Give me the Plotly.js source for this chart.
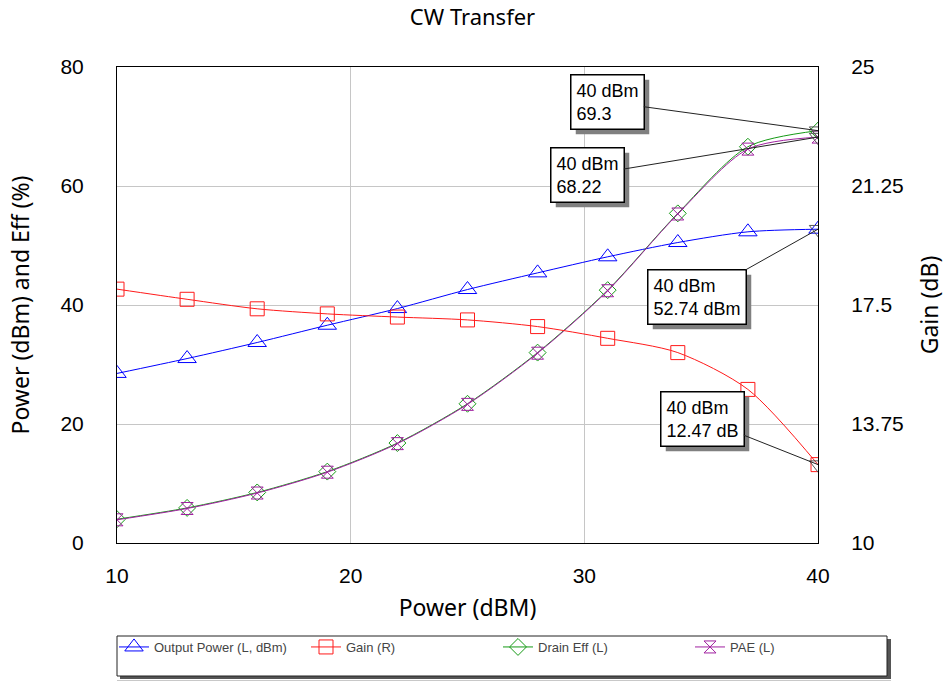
<!DOCTYPE html>
<html>
<head>
<meta charset="utf-8">
<script src="https://cdn.plot.ly/plotly-3.0.1.min.js"></script>
<style>html,body{margin:0;padding:0;background:#fff;}#chart{width:945px;height:681px;}</style>
</head>
<body>
<div id="chart"></div>
<script>
// ---- data ----
const inputPower = [10, 13, 16, 19, 22, 25, 28, 31, 34, 37, 40];
const outputPower = [28.5, 31.0, 33.7, 36.6, 39.4, 42.6, 45.4, 48.1, 50.5, 52.3, 52.74];
const gainDb = [18.0, 17.68, 17.38, 17.22, 17.12, 17.03, 16.82, 16.45, 16.0, 14.84, 12.47];
const drainEff = [4.0, 5.9, 8.5, 12.0, 16.8, 23.4, 32.0, 42.5, 55.4, 66.6, 69.3];
const pae = [3.9, 5.8, 8.4, 11.9, 16.7, 23.3, 31.9, 42.4, 55.3, 66.2, 68.22];
const seriesNames = ['Output Power (L, dBm)', 'Gain (R)', 'Drain Eff (L)', 'PAE (L)'];
const leftTicks = [0, 20, 40, 60, 80];
const rightTicks = [10, 13.75, 17.5, 21.25, 25];
const xTicks = [10, 20, 30, 40];
const markerX = 40;
const markerLeft = [69.3, 68.22, 52.74];
const markerRight = [12.47];

const lastIdx = inputPower.length - 1;

function line(name, y, color, symbol, size, yaxis) {
  return {
    x: inputPower, y: y, name: name, type: 'scatter', mode: 'lines+markers',
    yaxis: yaxis,
    line: {color: color, width: 1, shape: 'spline', smoothing: 0.8},
    marker: {symbol: symbol, size: size, color: color, line: {color: color, width: 1}}
  };
}

const traces = [
  line(seriesNames[0], outputPower, '#0000ff', 'triangle-up-open', 16, 'y'),
  line(seriesNames[1], gainDb, '#ff1a1a', 'square-open', 14, 'y2'),
  line(seriesNames[2], drainEff, '#159a15', 'diamond-open', 13, 'y'),
  line(seriesNames[3], pae, '#a020a0', 'hourglass-open', 12, 'y'),
  {x: markerLeft.map(() => markerX), y: markerLeft, type: 'scatter', mode: 'markers', showlegend: false, yaxis: 'y',
   marker: {symbol: 'triangle-down-open', size: 15, color: '#555', line: {color: '#555', width: 1}}},
  {x: markerRight.map(() => markerX), y: markerRight, type: 'scatter', mode: 'markers', showlegend: false, yaxis: 'y2',
   marker: {symbol: 'triangle-down-open', size: 15, color: '#555', line: {color: '#555', width: 1}}}
];

const notes = [
  {y: drainEff[lastIdx], yref: 'y', text: '40 dBm<br>69.3', ax: -211, ay: -29},
  {y: pae[lastIdx], yref: 'y', text: '40 dBm<br>68.22', ax: -231, ay: 38},
  {y: outputPower[lastIdx], yref: 'y', text: '40 dBm<br>52.74 dBm', ax: -121, ay: 68},
  {y: gainDb[lastIdx], yref: 'y2', text: '40 dBm<br>12.47 dB', ax: -116, ay: -46}
];
const noteFont = 'Liberation Sans, Arial';
const annotations = notes.map(n => ({
  x: inputPower[lastIdx], xref: 'x', y: n.y, yref: n.yref, text: n.text,
  showarrow: true, arrowhead: 0, arrowwidth: 1, arrowcolor: '#222', ax: n.ax, ay: n.ay, align: 'left',
  font: {family: noteFont, size: 18, color: '#000'},
  bgcolor: '#ffffff', bordercolor: '#000', borderwidth: 1.5, borderpad: 5
}));

const L = 117, R = 818, T = 67, B = 543;
const pw = R - L, ph = B - T;
const px = v => (v - L) / pw;
const py = v => (B - v) / ph;

const shapes = [
  {type: 'rect', xref: 'paper', yref: 'paper', x0: px(120), x1: px(891), y0: py(679), y1: py(639),
   fillcolor: '#555', line: {width: 0}, layer: 'above'},
  {type: 'rect', xref: 'paper', yref: 'paper', x0: px(117), x1: px(887), y0: py(676), y1: py(636),
   fillcolor: '#fff', line: {width: 1, color: '#222'}, layer: 'above'},
  {type: 'line', xref: 'paper', yref: 'paper', x0: px(117), x1: px(891), y0: py(680.5), y1: py(680.5),
   line: {width: 1, color: '#c8c8c8'}, layer: 'above'}
];

const layout = {
  width: 945, height: 681,
  margin: {l: L, r: 945 - R, t: T, b: 681 - B, autoexpand: false},
  paper_bgcolor: '#fff', plot_bgcolor: '#fff',
  title: {text: 'CW Transfer', x: 0.5, xref: 'container', y: 1 - 17 / 681, yref: 'container', yanchor: 'middle',
    font: {family: 'Noto Sans', size: 22, color: '#000'}},
  xaxis: {range: [10, 40], tickvals: xTicks, ticktext: xTicks.map(String), showgrid: true, gridcolor: '#c6c6c6',
    zeroline: false, showline: true, mirror: true, linecolor: '#000', linewidth: 1,
    ticks: '', ticklabelstandoff: 14,
    tickfont: {family: 'Liberation Sans, Arial', size: 21, color: '#000'},
    title: {text: 'Power (dBM)', font: {family: 'Noto Sans', size: 23, color: '#000'}, standoff: 13}},
  yaxis: {range: [0, 80], tickvals: leftTicks, ticktext: leftTicks.map(String), showgrid: true, gridcolor: '#c6c6c6',
    zeroline: false, showline: true, mirror: true, linecolor: '#000', linewidth: 1,
    ticks: '', ticklabelstandoff: 28,
    tickfont: {family: 'Liberation Sans, Arial', size: 21, color: '#000'},
    title: {text: 'Power (dBm) and Eff (%)', font: {family: 'Noto Sans', size: 23, color: '#000'}, standoff: 24}},
  yaxis2: {range: [10, 25], tickvals: rightTicks, ticktext: rightTicks.map(String), overlaying: 'y', side: 'right',
    showgrid: false, zeroline: false, showline: true, linecolor: '#000', linewidth: 1,
    ticks: '', ticklabelstandoff: 28,
    tickfont: {family: 'Liberation Sans, Arial', size: 21, color: '#000'},
    title: {text: 'Gain (dB)', font: {family: 'Noto Sans', size: 23, color: '#000'}, standoff: 20}},
  legend: {orientation: 'h', x: px(114), y: py(632), xanchor: 'left', yanchor: 'top', bgcolor: 'rgba(0,0,0,0)',
    borderwidth: 0, font: {family: 'Liberation Sans, Arial', size: 13, color: '#444'},
    entrywidth: 147, entrywidthmode: 'pixels', itemwidth: 30, traceorder: 'normal'},
  annotations: annotations,
  shapes: shapes,
  showlegend: true
};

Plotly.newPlot('chart', traces, layout, {displayModeBar: false, responsive: false}).then(gd => {
  const root = gd.getBoundingClientRect();
  const shadows = [];
  gd.querySelectorAll('.annotation rect.bg').forEach(r => {
    const b = r.getBoundingClientRect();
    const x0 = b.left - root.left + 5, x1 = b.right - root.left + 5;
    const y0 = b.top - root.top + 5, y1 = b.bottom - root.top + 5;
    shadows.push({type: 'rect', xref: 'paper', yref: 'paper', x0: px(x0), x1: px(x1), y0: py(y1), y1: py(y0),
      fillcolor: '#808080', line: {width: 0}, layer: 'above'});
  });
  return Plotly.relayout(gd, {shapes: shapes.concat(shadows)});
});
</script>
</body>
</html>
